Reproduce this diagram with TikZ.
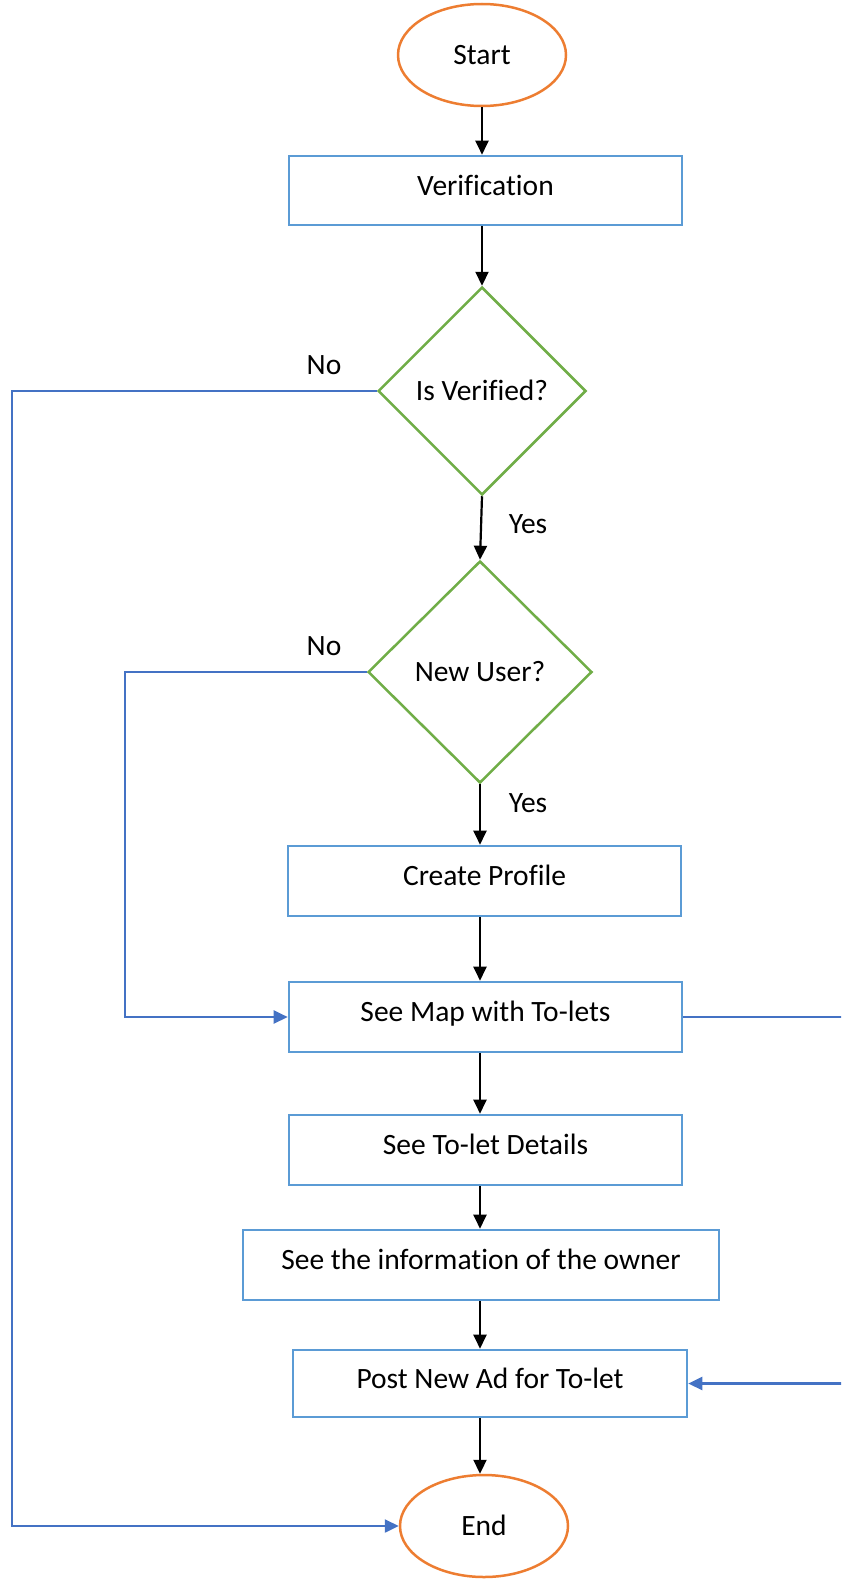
\documentclass[tikz,border=0pt]{standalone}
\usepackage{fontspec}
\setmainfont[Ligatures=CommonOff]{Carlito}
\usetikzlibrary{shapes.geometric,arrows.meta}
\definecolor{termc}{RGB}{237,125,49}
\definecolor{decc}{RGB}{112,173,71}
\definecolor{boxc}{RGB}{91,155,213}
\definecolor{linkc}{RGB}{68,114,196}
\tikzset{
  x=1pt,y=-1pt,
  every node/.style={font=\fontsize{29.5}{34}\selectfont},
  term/.style={ellipse,draw=termc,line width=2.5pt,minimum width=168pt,minimum height=102pt,inner sep=0pt,text height=22pt,text depth=3pt},
  dec/.style={diamond,draw=decc,line width=2.5pt,aspect=1,inner sep=0pt,text height=22pt,text depth=3pt},
  proc/.style={rectangle,draw=boxc,line width=2.6pt,inner sep=0pt,text height=21pt,text depth=12pt},
  flow/.style={draw=black,line width=2.2pt,-{Triangle[length=14pt,width=13pt]}},
  link/.style={draw=linkc,line width=2.4pt},
  linka/.style={link,-{Triangle[length=14pt,width=13pt]}},
  lbl/.style={inner sep=0pt}
}
\begin{document}
\begin{tikzpicture}
\useasboundingbox (0,0) rectangle (841,1579);
\clip (0,0) rectangle (841,1579);
\node[term] (start) at (482,55) {Start};
\node[proc,minimum width=393pt,minimum height=69pt] (verif) at (485.5,190.5) {Verification};
\node[dec,minimum width=208pt,minimum height=208pt] (isver) at (482,391) {Is Verified?};
\node[dec,minimum width=224pt,minimum height=222pt] (newuser) at (480,672) {New User?};
\node[proc,minimum width=393pt,minimum height=70pt] (create) at (484.5,881) {Create Profile};
\node[proc,minimum width=393pt,minimum height=70pt] (map) at (485.5,1017) {See Map with To-lets};
\node[proc,minimum width=393pt,minimum height=70pt] (details) at (485.5,1150) {See To-let Details};
\node[proc,minimum width=476pt,minimum height=70pt] (owner) at (481,1265) {See the information of the owner};
\node[proc,minimum width=394pt,minimum height=67pt] (post) at (490,1383.5) {Post New Ad for To-let};
\node[term] (end) at (484,1526) {End};

\node[lbl] (no1) at (324,365) {No};
\node[lbl] (yes1) at (528,524) {Yes};
\node[lbl] (no2) at (324,646) {No};
\node[lbl] (yes2) at (528,803) {Yes};

\draw[flow] (start.south) -- (start.south |- verif.north);
\draw[flow] (verif.south -| isver.north) -- (isver.north);
\draw[flow] (isver.south) -- (newuser.north);
\draw[flow] (newuser.south) -- (newuser.south |- create.north);
\draw[flow] (create.south -| newuser.south) -- (newuser.south |- map.north);
\draw[flow] (map.south -| newuser.south) -- (newuser.south |- details.north);
\draw[flow] (details.south -| newuser.south) -- (newuser.south |- owner.north);
\draw[flow] (owner.south -| newuser.south) -- (newuser.south |- post.north);
\draw[flow] (post.south -| newuser.south) -- (newuser.south |- end.north);

\draw[linka] (isver.west) -- (12,391) |- (end.west);
\draw[linka] (newuser.west) -- (125,672) |- (map.west);
\coordinate (rside) at (850,1017);
\draw[linka] (map.east) -- (rside) |- (post.east);
\end{tikzpicture}
\end{document}
